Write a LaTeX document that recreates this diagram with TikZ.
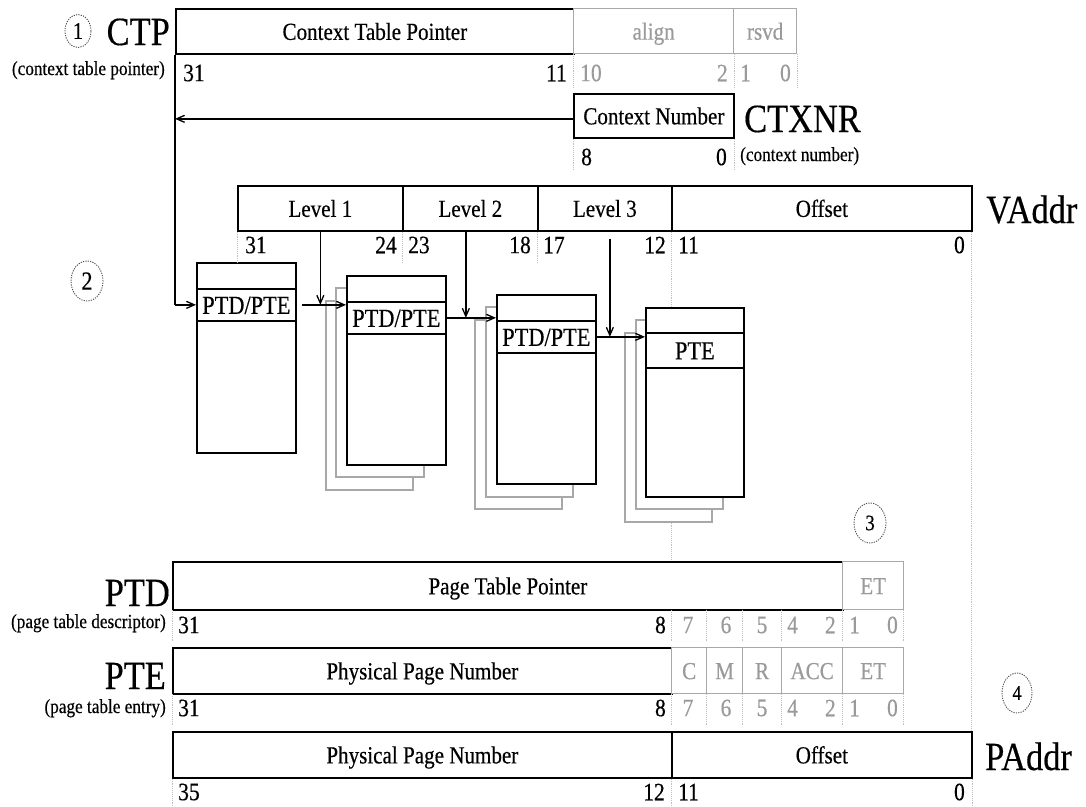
\documentclass[tikz,border=0pt]{standalone}
\usepackage{fontspec}
\setmainfont{Liberation Serif}[FakeStretch=0.86,FakeBold=0.4]
\usetikzlibrary{arrows.meta,shapes.geometric}
\definecolor{gline}{HTML}{A8A8A8}
\definecolor{gtext}{HTML}{9A9A9A}
\definecolor{dotc}{HTML}{C0C0C0}
\tikzset{
 fld/.style={draw=black, line width=1.7pt, fill=white, inner sep=0pt, anchor=north west, text height=19.5pt, text depth=2.5pt, font=\fontsize{24.5}{26}\selectfont},
 gfld/.style={draw=gline, line width=1.3pt, fill=white, text=gtext, inner sep=0pt, anchor=north west, text height=19.5pt, text depth=2.5pt, font=\fontsize{24.5}{26}\selectfont},
 bit/.style={inner sep=0pt, font=\fontsize{25}{27}\selectfont},
 gbit/.style={bit, text=gtext},
 big/.style={inner sep=0pt, font=\fontsize{40}{42}\selectfont},
 sub/.style={inner sep=0pt, font=\fontsize{20}{22}\selectfont},
 sep/.style={draw=dotc, densely dotted, line width=0.9pt},
 arr/.style={draw=black, line width=1.3pt, -{Straight Barb[length=8pt,width=7pt]}},
 plain/.style={draw=black, line width=1.3pt},
 tab/.style={draw=black, line width=1.7pt, fill=white, inner sep=0pt, anchor=north west, minimum width=99pt, text height=20pt, text depth=2pt, font=\fontsize{26}{28}\selectfont},
 ghost/.style={draw=gline, line width=1.4pt, fill=white},
 circ/.style={ellipse, draw=black!70, dash pattern=on 1.2pt off 1.2pt, line width=0.9pt, inner sep=0pt, minimum width=32pt, minimum height=40pt, font=\fontsize{26}{28}\selectfont}
}
\begin{document}
\begin{tikzpicture}[x=1pt,y=-1pt]
\useasboundingbox (0,0) rectangle (1086,806);

% long dotted guide lines
\draw[sep] (671,230) -- (671,561);
\draw[sep] (971,230) -- (971,731);

% ---------- page tables: shadow copies ----------
\draw[ghost] (326,301) rectangle (413,490);
\draw[ghost] (336,288) rectangle (424,477);
\draw[ghost] (475,320) rectangle (562,509);
\draw[ghost] (486,307) rectangle (573,497);
\draw[ghost] (625,333) rectangle (712,522);
\draw[ghost] (636,320) rectangle (723,509);

% table 1
\node[tab, minimum height=26pt] (t1a) at (196,262) {};
\node[tab, minimum height=32pt] (t1e) at (196,288) {PTD/PTE};
\node[tab, minimum height=132pt] (t1b) at (196,320) {};
% table 2
\node[tab, minimum height=26pt] (t2a) at (346,275) {};
\node[tab, minimum height=32pt] (t2e) at (346,301) {PTD/PTE};
\node[tab, minimum height=131pt] (t2b) at (346,333) {};
% table 3
\node[tab, minimum height=26pt] (t3a) at (496,294) {};
\node[tab, minimum height=32pt] (t3e) at (496,320) {PTD/PTE};
\node[tab, minimum height=131pt] (t3b) at (496,352) {};
% table 4
\node[tab, minimum width=98pt, minimum height=25pt] (t4a) at (645,307) {};
\node[tab, minimum width=98pt, minimum height=35pt] (t4e) at (645,332) {PTE};
\node[tab, minimum width=98pt, minimum height=129pt] (t4b) at (645,367) {};

% ---------- CTP ----------
\node[fld, minimum width=398pt, minimum height=45pt] (ctp) at (175,8) {Context Table Pointer};
\node[gfld, minimum width=160pt, minimum height=45pt] (align) at (573,8) {align};
\node[gfld, minimum width=63pt, minimum height=45pt] (rsvd) at (733,8) {rsvd};
\node[big, anchor=base east] (ctpl) at (170,45) {CTP};
\node[sub, anchor=base east] (ctps) at (165,75) {(context table pointer)};
\node[circ, minimum width=26pt, minimum height=33pt, font=\fontsize{24}{26}\selectfont] (c1) at (78,31) {1};
\node[bit, anchor=west] (cb1) at (183,73) {31};
\node[bit, anchor=east] (cb2) at (567,73) {11};
\node[gbit, anchor=west] (cb3) at (580,73) {10};
\node[gbit, anchor=east] (cb4) at (728,73) {2};
\node[gbit, anchor=west] (cb5) at (740,73) {1};
\node[gbit, anchor=east] (cb6) at (791,73) {0};
\draw[sep] (align.south west) -- ++(0,34);
\draw[sep] (align.south east) -- ++(0,34);
\draw[sep] (rsvd.south east) -- ++(0,34);

% ---------- CTXNR ----------
\node[fld, minimum width=160pt, minimum height=44pt] (ctxnr) at (573,93) {Context Number};
\node[big, anchor=base west] (ctxl) at (744,132) {CTXNR};
\node[sub, anchor=base west] (ctxs) at (740,161) {(context number)};
\node[bit, anchor=west] (xb1) at (581,157) {8};
\node[bit, anchor=east] (xb2) at (727,157) {0};
\draw[sep] (ctxnr.south west) -- ++(0,31);
\draw[sep] (ctxnr.south east) -- ++(0,31);

% ---------- VAddr ----------
\node[fld, minimum width=165pt, minimum height=45pt] (lv1) at (237,185) {Level 1};
\node[fld, minimum width=135pt, minimum height=45pt] (lv2) at (402,185) {Level 2};
\node[fld, minimum width=134pt, minimum height=45pt] (lv3) at (537,185) {Level 3};
\node[fld, minimum width=300pt, minimum height=45pt] (voff) at (671,185) {Offset};
\node[big, anchor=base west] (val) at (986,223) {VAddr};
\node[circ] (c2) at (87,281) {2};
\node[bit, anchor=west] (vb1) at (245,245) {31};
\node[bit, anchor=east] (vb2) at (397,245) {24};
\node[bit, anchor=west] (vb3) at (408,245) {23};
\node[bit, anchor=east] (vb4) at (531,245) {18};
\node[bit, anchor=west] (vb5) at (543,245) {17};
\node[bit, anchor=east] (vb6) at (666,245) {12};
\node[bit, anchor=west] (vb7) at (678,245) {11};
\node[bit, anchor=east] (vb8) at (965,245) {0};
\draw[sep] (lv1.south west) -- ++(0,32);
\draw[sep] (lv2.south west) -- ++(0,32);
\draw[sep] (lv3.south west) -- ++(0,32);

% ---------- arrows ----------
\draw[arr] ([yshift=-3pt]ctxnr.west) -- ([yshift=-3pt]ctxnr.west -| ctp.west);
\draw[plain] (ctp.south west) -- (ctp.south west |- t1e.west);
\draw[arr] (ctp.south west |- t1e.west) -- (t1e.west);
\draw[arr] ([xshift=5pt]t1e.east) -- (t1e.east -| t2b.west);
\draw[arr] (t2e.east) -- (t2e.east -| t3b.west);
\draw[arr] (t3e.east) -- (t3e.east -| t4b.west);
\draw[arr] (lv1.south) -- (lv1.south |- t1e.east);
\draw[arr] ([xshift=-4.5pt]lv2.south) -- ([xshift=-4.5pt]lv2.south |- t2e.east);
\draw[arr] ([xshift=5pt,yshift=-7pt]lv3.south) -- ([xshift=5pt]lv3.south |- t3e.east);

% ---------- PTD ----------
\node[circ, font=\fontsize{22}{24}\selectfont] (c3) at (870,523) {3};
\node[fld, minimum width=670pt, minimum height=48pt] (ptp) at (172,561) {Page Table Pointer};
\node[gfld, minimum width=61pt, minimum height=48pt] (ptdet) at (842,561) {ET};
\node[big, anchor=base east] (ptdl) at (170,606) {PTD};
\node[sub, anchor=base east] (ptds) at (166,628) {(page table descriptor)};

% ---------- PTE ----------
\node[fld, minimum width=499pt, minimum height=46pt] (ppn1) at (172,647) {Physical Page Number};
\node[gfld, minimum width=35pt, minimum height=46pt] (fc) at (671,647) {C};
\node[gfld, minimum width=36pt, minimum height=46pt] (fm) at (706,647) {M};
\node[gfld, minimum width=39pt, minimum height=46pt] (fr) at (742,647) {R};
\node[gfld, minimum width=61pt, minimum height=46pt] (facc) at (781,647) {ACC};
\node[gfld, minimum width=61pt, minimum height=46pt] (fet) at (842,647) {ET};
\node[big, anchor=base east] (ptel) at (166,689) {PTE};
\node[sub, anchor=base east] (ptes) at (166,713) {(page table entry)};

% bit rows of PTD and PTE
\foreach \r/\y in {d/625,e/708}{
  \node[bit, anchor=west] (\r b1) at (178,\y) {31};
  \node[bit, anchor=east] (\r b2) at (666,\y) {8};
  \node[gbit] (\r b3) at (688,\y) {7};
  \node[gbit] (\r b4) at (726,\y) {6};
  \node[gbit] (\r b5) at (762,\y) {5};
  \node[gbit, anchor=west] (\r b6) at (787,\y) {4};
  \node[gbit, anchor=east] (\r b7) at (836,\y) {2};
  \node[gbit, anchor=west] (\r b8) at (849,\y) {1};
  \node[gbit, anchor=east] (\r b9) at (898,\y) {0};
}
\foreach \x in {172,671,706,742,781,842,903}{
  \draw[sep] (\x,610) -- (\x,641);
  \draw[sep] (\x,694) -- (\x,725);
}

% ---------- PAddr ----------
\node[fld, minimum width=499pt, minimum height=46pt] (ppn2) at (172,731) {Physical Page Number};
\node[fld, minimum width=300pt, minimum height=46pt] (poff) at (671,731) {Offset};
\node[big, anchor=base west] (pal) at (985,770) {PAddr};
\node[circ, minimum width=30pt, font=\fontsize{21}{23}\selectfont] (c4) at (1017,693) {4};
\node[bit, anchor=west] (pb1) at (178,792) {35};
\node[bit, anchor=east] (pb2) at (665,792) {12};
\node[bit, anchor=west] (pb3) at (678,792) {11};
\node[bit, anchor=east] (pb4) at (965,792) {0};
\draw[sep] (ppn2.south west) -- ++(0,29);
\draw[sep] (poff.south west) -- ++(0,29);
\draw[sep] (poff.south east) -- ++(0,29);
\end{tikzpicture}
\end{document}
